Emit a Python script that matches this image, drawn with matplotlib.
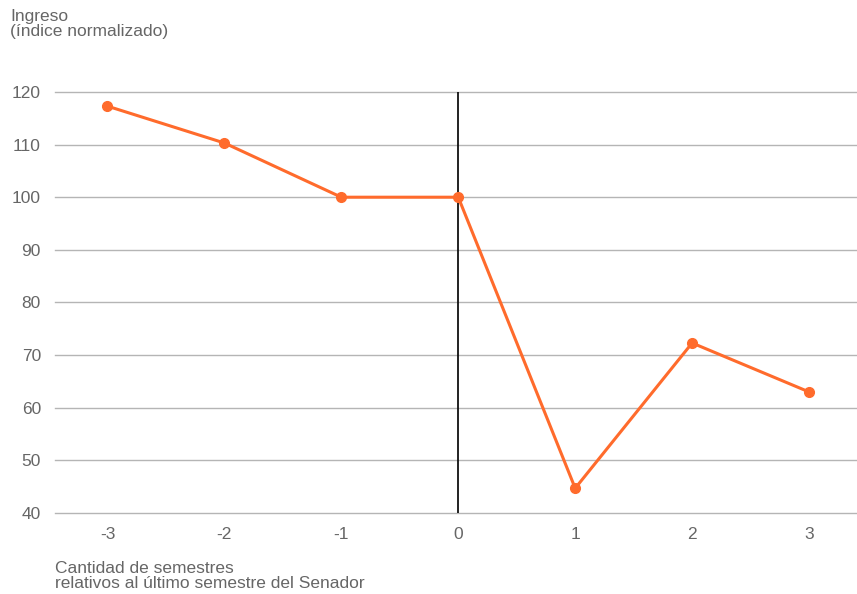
import numpy as np
import matplotlib.pyplot as plt

plt.rcParams['font.family'] = ['Liberation Sans', 'DejaVu Sans']

# semestres relativos y ingreso normalizado
semestres = [-3, -2, -1, 0, 1, 2, 3]
ingreso = [117.3, 110.3, 100.0, 100.0, 44.7, 72.3, 63.0]
yticks = [40, 50, 60, 70, 80, 90, 100, 110, 120]

naranja = '#FF6B2C'
gris_txt = '#666666'

fig = plt.figure(figsize=(8.57, 5.94), dpi=100)
ax = fig.add_axes([0.064, 0.1364, 0.936, 0.7088])

for v in yticks:
    ax.axhline(v, color='#b5b5b5', lw=1.0, zorder=1, clip_on=False)
ax.axvline(0, color='#111111', lw=1.3, zorder=2)

ax.plot(semestres, ingreso, color=naranja, lw=2.2, marker='o', ms=7,
        zorder=3, clip_on=False)

ax.set_xlim(-3.45, 3.41)
ax.set_ylim(40, 120)
ax.set_xticks(semestres)
ax.set_xticklabels([str(s) for s in semestres])
ax.set_yticks(yticks)

for s in ax.spines.values():
    s.set_visible(False)
ax.tick_params(axis='both', length=0, labelsize=12.5, labelcolor=gris_txt)
ax.tick_params(axis='y', pad=10)
ax.tick_params(axis='x', pad=10)

fig.text(10/857, 1 - 9/594, 'Ingreso\n(índice normalizado)', ha='left', va='top',
         fontsize=12.5, color=gris_txt, linespacing=1.0)
fig.text(55/857, 1 - 561/594, 'Cantidad de semestres\nrelativos al último semestre del Senador',
         ha='left', va='top', fontsize=12.5, color=gris_txt, linespacing=1.0)

fig.savefig('out.png', dpi=100)
